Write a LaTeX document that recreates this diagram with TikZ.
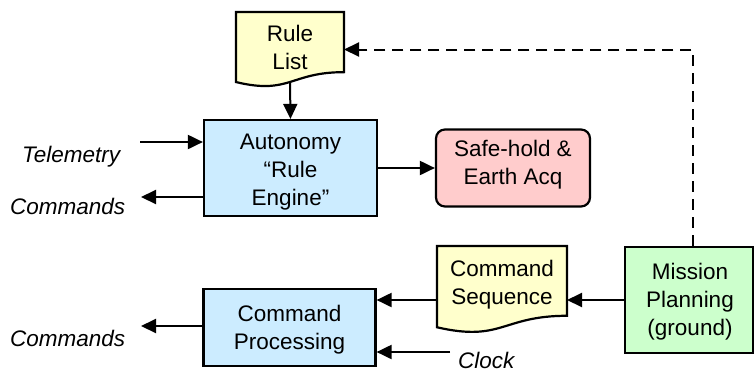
\documentclass[tikz,border=0pt]{standalone}
\usepackage{fontspec}
\setmainfont{Liberation Sans}
\usetikzlibrary{arrows.meta,calc}

\definecolor{procblue}{HTML}{CCECFF}
\definecolor{docyellow}{HTML}{FFFFCC}
\definecolor{safepink}{HTML}{FFCCCC}
\definecolor{plangreen}{HTML}{CCFFCC}

% Flowchart "document" outline drawn over an invisible frame node
\newcommand\docpath[1]{%
  \filldraw[docline] (#1.north west) -- (#1.north east)
    -- ($(#1.north east)!0.802!(#1.south east)$)
    .. controls ($(#1.north)!0.802!(#1.south)$) and ($(#1.north)!1.107!(#1.south)$)
    .. ($(#1.north west)!0.934!(#1.south west)$) -- cycle;}

\begin{document}
\begin{tikzpicture}[x=1pt,y=-1pt,
  font=\fontsize{22.5}{28}\selectfont,
  conn/.style={-{Triangle[length=15pt,width=14pt]}, line width=2pt},
  dashconn/.style={conn, dash pattern=on 11pt off 7pt},
  box/.style={draw, line width=2.2pt, align=center, inner sep=0pt},
  frame/.style={inner sep=0pt, outer sep=0pt, anchor=north west},
  docline/.style={line width=2.2pt, fill=docyellow, draw=black},
  txt/.style={align=center, inner sep=0pt},
  lbl/.style={inner sep=0pt, anchor=base west, font=\fontsize{22.5}{28}\selectfont\itshape}
]
\useasboundingbox (0,0) rectangle (755,373);

% process boxes
\node[box, fill=procblue, minimum width=173, minimum height=96] (auto) at (290.5,168) {};
\node[txt] (autotext) at (290.5,172) {Autonomy\\“Rule\\Engine”};
\node[box, fill=safepink, rounded corners=9pt, minimum width=154, minimum height=77] (safe) at (513,168) {};
\node[txt] (safetext) at (513,165) {Safe-hold \&\\Earth Acq};
\node[box, fill=procblue, minimum width=172, minimum height=77] (cmdproc) at (289.5,327.5) {};
\node[txt] (cmdproctext) at (289.5,330) {Command\\Processing};
\node[box, fill=plangreen, minimum width=128, minimum height=106] (plan) at (689,300) {};
\node[txt] (plantext) at (690,302) {Mission\\Planning\\(ground)};

% document shapes
\node[frame, minimum width=108, minimum height=75] (rule) at (236,12) {};
\docpath{rule}
\node[txt] (ruletext) at (290,47) {Rule\\List};

\node[frame, minimum width=130, minimum height=87] (seq) at (437,246) {};
\docpath{seq}
\node[txt] (seqtext) at (502,285) {Command\\Sequence};

% external labels
\node[lbl] (tele) at (22,162) {Telemetry};
\node[lbl] (cmdsA) at (10,214) {Commands};
\node[lbl] (cmdsB) at (10,346) {Commands};
\node[lbl] (clock) at (458,368) {Clock};

\coordinate (telein) at (140,142);
\coordinate (cmdAout) at (141,197);
\coordinate (cmdBout) at (141,326);
\coordinate (clkin) at (450,352);

% connectors
\draw[conn] ($(rule.north)!0.93!(rule.south)$) -- (auto.north);
\draw[conn] (telein) -- (telein -| auto.west);
\draw[conn] (cmdAout -| auto.west) -- (cmdAout);
\draw[conn] (auto.east) -- (safe.west);
\draw[conn] (plan.west) -- (plan.west -| seq.east);
\draw[conn] (plan.west -| seq.west) -- (plan.west -| cmdproc.east);
\draw[conn] (clkin) -- (clkin -| cmdproc.east);
\draw[conn] (cmdBout -| cmdproc.west) -- (cmdBout);
\draw[dashconn] ($(plan.north)+(4,0)$) |- (rule.east);
\end{tikzpicture}
\end{document}
